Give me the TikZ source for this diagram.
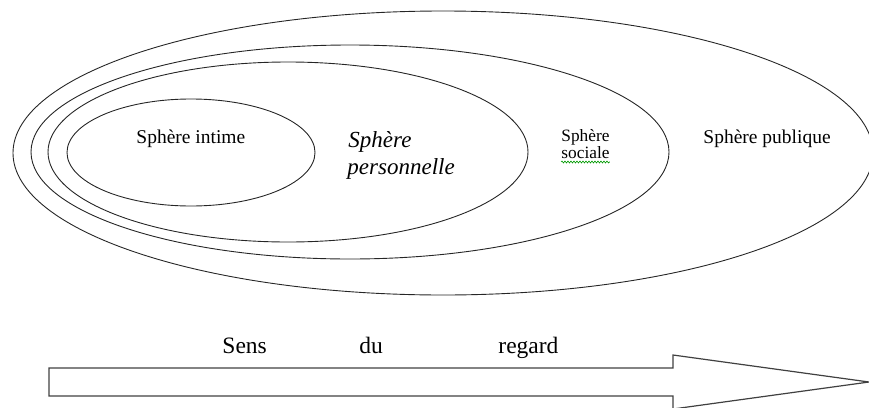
\documentclass[tikz,border=0pt]{standalone}
\usepackage{fontspec}
\setmainfont{Liberation Serif}
\usetikzlibrary{positioning}
\usetikzlibrary{decorations.pathmorphing}

\begin{document}
\begin{tikzpicture}[
  x=1pt,y=-1pt,line width=0.9pt,
  sphere/.style={black!85},
  word/.style={inner sep=0pt,anchor=base west}
  ]
  \useasboundingbox (0,0) rectangle (869,407);
  \clip (0,0) rectangle (869,407);
  % spheres
  \draw[sphere] (443,153) ellipse [x radius=430,y radius=142];
  \draw[sphere] (350,152) ellipse [x radius=319,y radius=107];
  \draw[sphere] (288,152) ellipse [x radius=240,y radius=90];
  \draw[sphere] (191,152.5) ellipse [x radius=124,y radius=53.5];
  \node (intime)    [word,font=\fontsize{19.5}{22}\selectfont] at (136,143) {Sphère intime};
  \node (perso)     [word,font=\fontsize{23}{27}\selectfont\itshape] at (348,147) {Sphère};
  \node (perso2)    [word,font=\fontsize{23}{27}\selectfont\itshape] at (347,174) {personnelle};
  \node (sociale)   [word,font=\fontsize{17.3}{19}\selectfont] at (561,141) {Sphère};
  \node (sociale2)  [word,font=\fontsize{17.3}{19}\selectfont] at (561,158) {sociale};
  \node (publique)  [word,font=\fontsize{19.5}{22}\selectfont] at (703,143) {Sphère publique};
  \draw[green!60!black,line width=0.6pt,decorate,
        decoration={snake,amplitude=1pt,segment length=3pt}]
    ([yshift=-4pt]sociale2.base west) -- ([yshift=-4pt]sociale2.base east);
  % arrow
  \node (sens)   [word,font=\fontsize{23.5}{26}\selectfont] at (222,353) {Sens};
  \node (du)     [word,font=\fontsize{23.5}{26}\selectfont] at (359,353) {du};
  \node (regard) [word,font=\fontsize{23.5}{26}\selectfont] at (498,353) {regard};
  \draw[black!75,line width=1.2pt] (49,368) -- (673,368) -- (673,355) -- (869,382)
    -- (673,409) -- (673,396) -- (49,396) -- cycle;
\end{tikzpicture}
\end{document}
